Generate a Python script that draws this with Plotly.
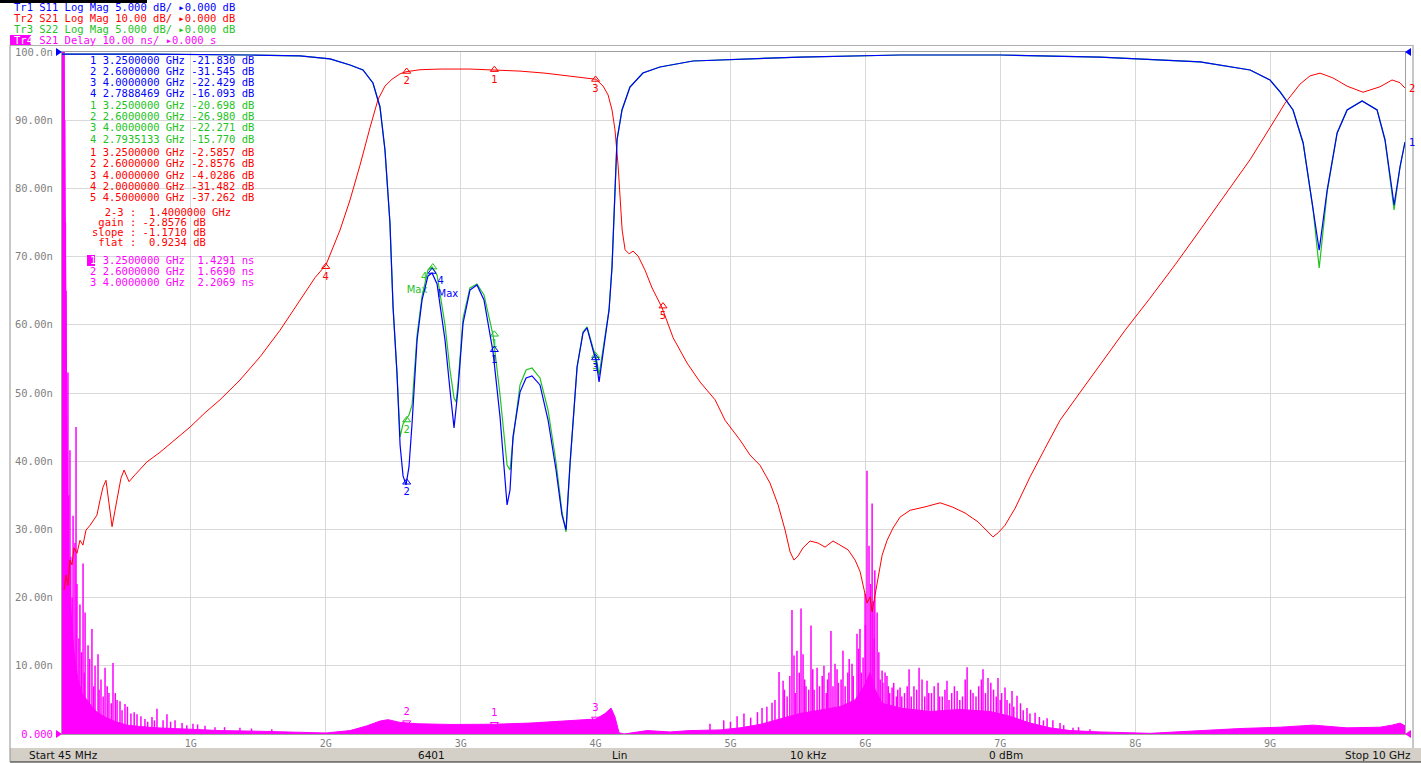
import plotly.graph_objects as go

# ---------------- data ----------------
# Tr1 S11 (Log Mag, 5 dB/div, ref 0 dB at top)
s11_f = [0.045, 0.697, 1.439, 1.809, 2.032, 2.180, 2.276, 2.350, 2.402, 2.439, 2.476, 2.499, 2.528, 2.551, 2.573,
         2.595, 2.617, 2.640, 2.677, 2.714, 2.758, 2.788, 2.825, 2.884, 2.921, 2.951, 2.980, 3.018, 3.069, 3.121,
         3.173, 3.240, 3.292, 3.344, 3.366, 3.388, 3.440, 3.485, 3.529, 3.588, 3.648, 3.707, 3.751, 3.781, 3.811,
         3.863, 3.907, 3.937, 3.981, 4.003, 4.026, 4.070, 4.100, 4.122, 4.144, 4.159, 4.196, 4.255, 4.351, 4.477,
         4.722, 5.515, 6.257, 6.998, 7.740, 8.481, 8.852, 8.999, 9.074, 9.170, 9.245, 9.319, 9.364, 9.423, 9.497,
         9.571, 9.682, 9.793, 9.852, 9.904, 9.919, 9.963, 10.0]
s11_db = [-0.15, -0.15, -0.22, -0.29, -0.51, -0.95, -1.32, -2.27, -4.03, -7.18, -12.54, -18.70, -23.53, -28.81, -31.08,
          -31.74, -30.42, -27.20, -21.11, -18.18, -16.42, -16.20, -17.01, -21.11, -24.78, -27.56, -24.78, -19.87, -17.45, -17.08,
          -18.18, -21.99, -26.76, -33.21, -32.11, -28.22, -24.93, -23.90, -23.75, -24.41, -26.98, -30.64, -33.94, -35.04, -30.13,
          -23.09, -20.60, -20.23, -21.85, -22.58, -24.19, -21.11, -18.91, -15.76, -10.12, -6.45, -4.25, -2.57, -1.54, -1.10,
          -0.66, -0.37, -0.22, -0.22, -0.37, -0.73, -1.32, -2.05, -2.93, -4.25, -6.67, -11.36, -14.52, -10.12, -5.94,
          -4.25, -3.59, -4.25, -6.45, -10.12, -11.22, -8.43, -6.60]

# Tr3 S22 (Log Mag, 5 dB/div)
s22_f = [0.045, 0.697, 1.439, 1.809, 2.032, 2.180, 2.276, 2.350, 2.402, 2.439, 2.476, 2.499, 2.528, 2.551, 2.573,
         2.595, 2.617, 2.640, 2.677, 2.714, 2.758, 2.788, 2.825, 2.884, 2.921, 2.951, 2.966, 2.980, 3.018, 3.069, 3.121,
         3.173, 3.240, 3.292, 3.344, 3.366, 3.388, 3.440, 3.485, 3.529, 3.588, 3.648, 3.707, 3.751, 3.781, 3.811,
         3.863, 3.907, 3.937, 3.981, 4.003, 4.026, 4.070, 4.100, 4.122, 4.144, 4.159, 4.196, 4.255, 4.351, 4.477,
         4.722, 5.515, 6.257, 6.998, 7.740, 8.481, 8.852, 8.999, 9.074, 9.170, 9.245, 9.319, 9.364, 9.423, 9.497,
         9.571, 9.682, 9.793, 9.852, 9.904, 9.919, 9.963, 10.0]
s22_db = [-0.15, -0.15, -0.22, -0.29, -0.51, -0.95, -1.32, -2.27, -4.03, -7.18, -12.54, -18.70, -23.53, -28.22, -27.27,
          -26.98, -26.61, -25.88, -20.75, -17.89, -15.98, -15.76, -16.35, -20.01, -23.31, -25.37, -25.66, -24.41, -19.50, -17.30, -17.01,
          -17.81, -20.75, -25.15, -30.28, -30.64, -28.44, -24.41, -23.31, -23.17, -23.90, -26.25, -30.06, -33.72, -35.19, -30.28,
          -23.09, -20.53, -20.16, -21.70, -22.29, -23.68, -20.75, -18.91, -15.76, -10.12, -6.45, -4.25, -2.57, -1.54, -1.10,
          -0.66, -0.37, -0.22, -0.22, -0.37, -0.73, -1.32, -2.05, -2.93, -4.25, -6.67, -11.58, -15.84, -10.26, -5.94,
          -4.25, -3.59, -4.25, -6.45, -10.30, -11.58, -8.43, -6.60]

# Tr2 S21 (Log Mag, 10 dB/div)
s21_f = [0.060, 0.075, 0.089, 0.104, 0.119, 0.134, 0.156, 0.178, 0.200, 0.223, 0.253, 0.282, 0.304, 0.327, 0.349,
         0.371, 0.393, 0.416, 0.438, 0.460, 0.482, 0.505, 0.527, 0.542, 0.586, 0.675, 0.771, 0.883, 0.994, 1.105,
         1.216, 1.364, 1.513, 1.661, 1.809, 1.920, 2.002, 2.106, 2.180, 2.254, 2.328, 2.387, 2.439, 2.491, 2.551,
         2.595, 2.699, 2.847, 3.070, 3.240, 3.440, 3.625, 3.811, 3.959, 4.003, 4.056, 4.093, 4.122, 4.144, 4.167,
         4.182, 4.197, 4.219, 4.249, 4.278, 4.315, 4.367, 4.419, 4.493, 4.575, 4.678, 4.775, 4.886, 4.960, 5.071,
         5.145, 5.219, 5.293, 5.353, 5.405, 5.442, 5.471, 5.501, 5.538, 5.590, 5.649, 5.701, 5.760, 5.812, 5.872,
         5.924, 5.961, 5.991, 6.013, 6.035, 6.050, 6.072, 6.094, 6.124, 6.161, 6.205, 6.257, 6.331, 6.442, 6.554,
         6.643, 6.739, 6.835, 6.909, 6.946, 6.984, 7.035, 7.110, 7.221, 7.332, 7.443, 7.592, 7.740, 7.925, 8.110,
         8.296, 8.481, 8.666, 8.851, 8.999, 9.111, 9.222, 9.296, 9.370, 9.466, 9.570, 9.689, 9.815, 9.904, 9.963, 10.0]
s21_db = [-78.9, -76.7, -78.2, -74.5, -75.2, -72.7, -73.5, -71.6, -72.3, -70.1, -69.4, -68.6, -67.9, -65.7, -63.8,
          -62.8, -66.1, -69.6, -67.2, -65.0, -62.5, -61.3, -62.5, -63.0, -62.0, -60.1, -58.7, -56.9, -55.0, -52.9,
          -51.0, -48.1, -44.7, -40.8, -36.4, -33.1, -31.2, -26.1, -21.7, -16.6, -11.1, -7.0, -5.0, -4.0, -3.2,
          -2.9, -2.6, -2.5, -2.5, -2.6, -2.8, -3.1, -3.5, -3.9, -4.0, -5.0, -6.3, -8.5, -11.4, -16.6,
          -21.7, -26.1, -29.0, -29.6, -29.2, -29.9, -32.0, -34.6, -37.5, -41.9, -45.6, -48.4, -51.0, -54.0, -56.9,
          -59.1, -60.6, -63.2, -66.4, -70.1, -73.3, -74.5, -73.9, -72.7, -71.7, -72.0, -72.6, -71.7, -72.3, -73.0,
          -74.5, -76.2, -78.9, -80.8, -79.9, -82.1, -79.6, -77.1, -73.8, -71.6, -69.8, -68.2, -67.2, -66.7, -66.1,
          -66.7, -67.6, -68.9, -70.4, -71.1, -70.5, -69.4, -66.9, -62.3, -58.1, -54.0, -49.9, -45.9, -40.8, -36.1,
          -31.2, -26.1, -21.0, -15.8, -11.1, -7.5, -4.7, -3.5, -3.1, -3.8, -5.0, -5.9, -5.1, -4.1, -4.5, -5.3]

# Tr4 S21 Delay (10 ns/div, ref 0 at bottom): dense body of the trace
dly_f = [0.045, 0.060, 0.075, 0.089, 0.104, 0.134, 0.163, 0.193, 0.230, 0.267, 0.304, 0.371, 0.445, 0.527, 0.623,
         0.749, 0.994, 1.216, 1.513, 1.809, 2.002, 2.180, 2.306, 2.402, 2.462, 2.551, 2.684, 2.921, 3.240, 3.514,
         3.811, 4.003, 4.070, 4.115, 4.144, 4.174, 4.211, 4.278, 4.382, 4.553, 4.700, 4.923, 5.071, 5.219, 5.367,
         5.515, 5.663, 5.812, 5.924, 5.991, 6.035, 6.072, 6.124, 6.257, 6.479, 6.702, 6.924, 7.073, 7.221, 7.369,
         7.518, 7.740, 8.110, 8.481, 8.777, 9.074, 9.319, 9.571, 9.815, 9.904, 9.963, 10.0]
dly_ns = [100, 100, 60, 30, 20, 12, 8, 6, 5, 4, 3.2, 2.4, 1.8, 1.3, 1.1,
          0.9, 0.7, 0.5, 0.4, 0.3, 0.15, 0.5, 1.2, 1.9, 2.1, 1.7, 1.5, 1.4, 1.43, 1.6,
          1.9, 2.2, 3.0, 3.8, 2.5, 0.2, 0.0, 0.2, 0.5, 0.3, 0.5, 0.6, 0.9, 1.4, 2.2,
          3.0, 3.5, 4.0, 5.0, 7.0, 9.0, 6.5, 4.5, 3.8, 3.3, 3.6, 3.3, 2.6, 1.6, 0.9,
          0.5, 0.3, 0.1, 0.5, 0.8, 1.0, 1.3, 0.9, 1.0, 1.3, 1.6, 1.2]
# Tr4 delay noise spikes
spk_f = [0.050, 0.060, 0.065, 0.070, 0.075, 0.080, 0.089, 0.095, 0.104, 0.110, 0.120, 0.127, 0.141, 0.149, 0.156,
         0.170, 0.178, 0.190, 0.201, 0.210, 0.216, 0.238, 0.250, 0.267, 0.280, 0.290, 0.312, 0.320, 0.334, 0.350,
         0.364, 0.380, 0.393, 0.410, 0.423, 0.440, 0.453, 0.475, 0.490, 0.512, 0.530, 0.556, 0.580, 0.601, 0.630,
         0.660, 0.680, 0.712, 0.730, 0.749, 0.794, 0.823, 0.850, 0.883, 0.935, 0.970, 1.016, 1.050, 1.105, 1.179,
         1.250, 1.364, 1.450, 1.600,
         4.848, 4.950, 5.000, 5.049, 5.100, 5.150, 5.200, 5.234, 5.270, 5.308, 5.330, 5.360, 5.390, 5.400, 5.420,
         5.440, 5.456, 5.471, 5.480, 5.493, 5.510, 5.523, 5.538, 5.550, 5.560, 5.580, 5.597, 5.610, 5.620, 5.642,
         5.660, 5.680, 5.693, 5.710, 5.720, 5.730, 5.745, 5.760, 5.775, 5.790, 5.800, 5.820, 5.834, 5.850, 5.870,
         5.880, 5.901, 5.910, 5.938, 5.950, 5.960, 5.970, 5.983, 5.998, 6.000, 6.012, 6.027, 6.040, 6.050, 6.057,
         6.065, 6.070, 6.087, 6.100, 6.110, 6.124, 6.130, 6.146, 6.160, 6.170, 6.180, 6.198, 6.210, 6.230, 6.240,
         6.257, 6.270, 6.290, 6.310, 6.324, 6.340, 6.360, 6.380, 6.398, 6.420, 6.440, 6.457, 6.470, 6.490, 6.510,
         6.539, 6.550, 6.570, 6.590, 6.605, 6.620, 6.640, 6.660, 6.680, 6.700, 6.720, 6.740, 6.754, 6.780, 6.798,
         6.820, 6.840, 6.860, 6.872, 6.890, 6.909, 6.930, 6.950, 6.970, 6.983, 7.000, 7.010, 7.035, 7.050, 7.070,
         7.087, 7.100, 7.124, 7.150, 7.170, 7.198, 7.220, 7.258, 7.290, 7.320, 7.347, 7.390, 7.443, 7.470, 7.539,
         7.580, 7.665]
spk_ns = [100, 100, 90, 75, 65, 38, 53, 35, 41.6, 26, 20, 32, 28, 45, 22,
          14, 19, 12, 25, 9, 17.8, 13, 11, 15.4, 7, 10, 11.7, 6.5, 8, 5.5,
          9.7, 7, 6, 4.5, 10.4, 6, 5, 4.8, 3.5, 4.4, 4, 3, 3.2, 2.9, 2.6,
          2.2, 1.8, 2.5, 2.0, 3.7, 2.0, 2.9, 1.8, 2.0, 1.6, 1.3, 1.5, 1.4, 1.2, 1.0,
          1.0, 0.9, 0.8, 0.7,
          1.5, 2.0, 1.8, 2.6, 3.0, 2.4, 3.2, 3.8, 4.0, 4.6, 5.0, 9.1, 7.8, 6.5, 5.5,
          8.5, 18.2, 11.5, 6.0, 12.2, 9.0, 18.4, 11.7, 8.0, 7.0, 6.5, 15.9, 9.5, 6.5, 9.7,
          7.0, 8.5, 10.0, 6.0, 8.0, 9.0, 15.1, 7.0, 10.3, 9.5, 7.5, 8.0, 12.2, 7.0, 9.0,
          11.0, 10.3, 8.5, 14.7, 12.5, 15.4, 9.0, 11.2, 20.6, 16.0, 38.6, 27.6, 22.0, 33.8, 19.5,
          14.0, 24.0, 17.8, 12.0, 8.0, 9.3, 7.5, 9.0, 8.5, 7.0, 6.0, 6.8, 7.5, 5.5, 6.5,
          6.8, 5.5, 6.0, 7.0, 9.5, 5.5, 7.0, 6.5, 9.7, 8.0, 5.5, 7.8, 6.0, 6.0, 7.0,
          7.5, 5.5, 5.5, 6.5, 7.8, 5.0, 6.0, 7.0, 6.3, 5.0, 5.5, 8.0, 9.8, 6.5, 6.0,
          5.5, 7.0, 8.0, 9.5, 6.0, 8.2, 7.5, 6.5, 5.5, 8.2, 5.0, 6.0, 6.8, 5.0, 4.5,
          6.3, 4.0, 5.6, 4.5, 3.5, 3.8, 3.0, 3.1, 2.5, 2.0, 2.3, 2.0, 1.6, 1.3, 0.9,
          1.0, 0.7]

# marker readouts
s11_mk_f = [3.2500000, 2.6000000, 4.0000000, 2.7888469]
s11_mk_db = [-21.830, -31.545, -22.429, -16.093]
s22_mk_f = [3.2500000, 2.6000000, 4.0000000, 2.7935133]
s22_mk_db = [-20.698, -26.980, -22.271, -15.770]
s21_mk_f = [3.2500000, 2.6000000, 4.0000000, 2.0000000, 4.5000000]
s21_mk_db = [-2.5857, -2.8576, -4.0286, -31.482, -37.262]
dly_mk_f = [3.2500000, 2.6000000, 4.0000000]
dly_mk_ns = [1.4291, 1.6690, 2.2069]
stats_lines = ["  2-3 :  1.4000000 GHz", " gain : -2.8576 dB", "slope : -1.1710 dB", " flat :  0.9234 dB"]

# axes text
x_tick_vals = [1, 2, 3, 4, 5, 6, 7, 8, 9]
x_tick_text = ["1G", "2G", "3G", "4G", "5G", "6G", "7G", "8G", "9G"]
y_tick_vals = [0, 10, 20, 30, 40, 50, 60, 70, 80, 90, 100]
y_tick_text = ["0.000", "10.00n", "20.00n", "30.00n", "40.00n", "50.00n", "60.00n", "70.00n", "80.00n", "90.00n", "100.0n"]
header_lines = ["Tr1 S11 Log Mag 5.000 dB/ \u25b80.000 dB", "Tr2 S21 Log Mag 10.00 dB/ \u25b80.000 dB",
                "Tr3 S22 Log Mag 5.000 dB/ \u25b80.000 dB", "Tr4 S21 Delay 10.00 ns/ \u25b80.000 s"]
status_items = ["Start 45 MHz", "6401", "Lin", "10 kHz", "0 dBm", "Stop 10 GHz"]

# ---------------- styling / layout helpers ----------------
W, H = 1421, 763
L, R, T, B = 62, 1405, 52, 734


def px(x):
    return (x - L) / (R - L)


def py(y):
    return (B - y) / (B - T)


BLUE = '#0000ff'
RED = '#ff0000'
GREEN = '#22c322'
MAG = '#ff00ff'
GRID = '#d9d9d9'
GRAY = '#7f7f7f'
MONO = 'DejaVu Sans Mono'
NB = '\u00a0'

fig = go.Figure()

# delay trace body
fig.add_trace(go.Scatter(x=dly_f, y=dly_ns, mode='lines', line=dict(color=MAG, width=1),
                         fill='tozeroy', fillcolor=MAG, yaxis='y', hoverinfo='skip'))
seg_x, seg_y = [], []
for f, v in zip(spk_f, spk_ns):
    seg_x += [f, f, None]
    seg_y += [0, v, None]
fig.add_trace(go.Scatter(x=seg_x, y=seg_y, mode='lines', line=dict(color=MAG, width=1.5), yaxis='y',
                         hoverinfo='skip'))
fig.add_trace(go.Scatter(x=dly_mk_f, y=dly_mk_ns, mode='markers+text', yaxis='y',
                         marker=dict(symbol='triangle-down-open', size=7, color=MAG, line=dict(width=1)),
                         text=[str(i + 1) for i in range(len(dly_mk_f))], textposition='top center',
                         textfont=dict(color=MAG, size=10, family='DejaVu Sans'), cliponaxis=False))

# S22 (green) – bottom-most of the S-parameter layers
fig.add_trace(go.Scatter(x=s22_f, y=s22_db, mode='lines', line=dict(color=GREEN, width=1.2), yaxis='y2',
                         hoverinfo='skip'))
fig.add_trace(go.Scatter(x=s22_mk_f, y=s22_mk_db, mode='markers+text', yaxis='y2',
                         marker=dict(symbol='triangle-up-open', size=7, color=GREEN, line=dict(width=1)),
                         text=['1', '2', '3', '4<br>Max'],
                         textposition=['bottom center', 'bottom center', 'bottom center', 'bottom left'],
                         textfont=dict(color=GREEN, size=10, family='DejaVu Sans')))
# S21 (red)
fig.add_trace(go.Scatter(x=s21_f, y=s21_db, mode='lines', line=dict(color=RED, width=1), yaxis='y3',
                         hoverinfo='skip'))
fig.add_trace(go.Scatter(x=s21_mk_f, y=s21_mk_db, mode='markers+text', yaxis='y3',
                         marker=dict(symbol='triangle-up-open', size=7, color=RED, line=dict(width=1)),
                         text=[str(i + 1) for i in range(len(s21_mk_f))], textposition='bottom center',
                         textfont=dict(color=RED, size=10, family='DejaVu Sans')))
# S11 (blue) on top
fig.add_trace(go.Scatter(x=s11_f, y=s11_db, mode='lines', line=dict(color=BLUE, width=1.2), yaxis='y4',
                         hoverinfo='skip'))
fig.add_trace(go.Scatter(x=s11_mk_f, y=s11_mk_db, mode='markers+text', yaxis='y4',
                         marker=dict(symbol='triangle-up-open', size=7, color=BLUE, line=dict(width=1)),
                         text=['1', '2', '3', '4<br>Max'],
                         textposition=['bottom center', 'bottom center', 'bottom center', 'bottom right'],
                         textfont=dict(color=BLUE, size=10, family='DejaVu Sans')))

# stimulus markers under the x axis
stim_f = [s21_mk_f[3], dly_mk_f[1], s22_mk_f[3], dly_mk_f[0], dly_mk_f[2], s21_mk_f[4]]
stim_c = [RED, MAG, GREEN, MAG, MAG, RED]
stim_s = ['triangle-up-open', 'triangle-up-open', 'triangle-up-open', 'triangle-up', 'triangle-up-open',
          'triangle-up-open']
fig.add_trace(go.Scatter(x=stim_f, y=[-0.8] * len(stim_f), mode='markers', yaxis='y', cliponaxis=False,
                         marker=dict(symbol=stim_s, size=8, color=stim_c, line=dict(color=stim_c, width=1)),
                         hoverinfo='skip'))

ann = []
# header lines (Tr4 label sits on a magenta box drawn as a shape)
hy = [7, 18, 29, 40]
hc = [BLUE, RED, GREEN, MAG]
for i, (txt, c) in enumerate(zip(header_lines, hc)):
    t = txt.replace(' ', NB)
    if i == 3:
        t = "<span style='color:white'>" + t[:3] + "</span>" + t[3:]
    ann.append(dict(x=px(12), y=py(hy[i]), xref='paper', yref='paper', xanchor='left', yanchor='middle',
                    text=t, showarrow=False, font=dict(family=MONO, size=10.5, color=c)))


def readout(lines, ys, x0, color):
    for t, y in zip(lines, ys):
        ann.append(dict(x=px(x0), y=py(y), xref='paper', yref='paper', xanchor='left', yanchor='middle',
                        text=t, showarrow=False, font=dict(family=MONO, size=10.5, color=color)))


def nb(s):
    return s.replace(' ', NB)


readout([nb(f"{i + 1} {f:.7f} GHz {v:.3f} dB") for i, (f, v) in enumerate(zip(s11_mk_f, s11_mk_db))],
        [60, 71, 82, 93], 88, BLUE)
readout([nb(f"{i + 1} {f:.7f} GHz {v:.3f} dB") for i, (f, v) in enumerate(zip(s22_mk_f, s22_mk_db))],
        [105, 116, 127, 139], 88, GREEN)
readout([nb(f"{i + 1} {f:.7f} GHz {v:.3f} dB" if abs(v) >= 10 else f"{i + 1} {f:.7f} GHz {v:.4f} dB")
         for i, (f, v) in enumerate(zip(s21_mk_f, s21_mk_db))],
        [152, 163, 175, 186, 197], 88, RED)
readout([nb(s) for s in stats_lines], [212, 222, 232, 242], 90, RED)
dl = [nb(f"{i + 1} {f:.7f} GHz {v:7.4f} ns") for i, (f, v) in enumerate(zip(dly_mk_f, dly_mk_ns))]
dl[0] = "<span style='color:white'>" + dl[0][0] + "</span>" + dl[0][1:]
readout(dl, [260, 271, 282], 88, MAG)

# trace-end labels at the right edge
ann.append(dict(x=10.0, y=s21_db[-1], xref='x', yref='y3', xanchor='left', yanchor='middle', xshift=2,
                text='2', showarrow=False, font=dict(family='DejaVu Sans', size=10, color=RED)))
ann.append(dict(x=10.0, y=s11_db[-1], xref='x', yref='y4', xanchor='left', yanchor='middle', xshift=2,
                text='1', showarrow=False, font=dict(family='DejaVu Sans', size=10, color=BLUE)))

# status bar texts
sx = [27, 432, 619, 809, 1006, 1413]
sa = ['left', 'center', 'center', 'center', 'center', 'right']
for t, x, a in zip(status_items, sx, sa):
    ann.append(dict(x=px(x), y=py(755), xref='paper', yref='paper', xanchor=a, yanchor='middle', text=t,
                    showarrow=False, font=dict(family='DejaVu Sans', size=10.5, color='#111111')))

shapes = [
    dict(type='rect', xref='paper', yref='paper', x0=px(10), x1=px(1421), y0=py(762), y1=py(748),
         fillcolor='#d4d0c8', line=dict(width=0), layer='below'),
    dict(type='line', xref='paper', yref='paper', x0=px(10), x1=px(1421), y0=py(762), y1=py(762),
         line=dict(color='#202020', width=1)),
    dict(type='line', xref='paper', yref='paper', x0=px(10), x1=px(10), y0=py(45), y1=py(762),
         line=dict(color='#909090', width=1)),
    dict(type='line', xref='paper', yref='paper', x0=px(1413), x1=px(1413), y0=py(45), y1=py(748),
         line=dict(color='#909090', width=1)),
    dict(type='line', xref='paper', yref='paper', x0=px(10), x1=px(1413), y0=py(45.5), y1=py(45.5),
         line=dict(color='#b0b0b0', width=1)),
    dict(type='rect', xref='paper', yref='paper', x0=px(0), x1=px(147), y0=py(3), y1=py(0),
         fillcolor='black', line=dict(width=0)),
    # magenta highlight boxes (Tr4 label, active marker 1)
    dict(type='rect', xref='paper', yref='paper', x0=px(10), x1=px(31), y0=py(46), y1=py(35),
         fillcolor=MAG, line=dict(width=0), layer='below'),
    dict(type='rect', xref='paper', yref='paper', x0=px(87), x1=px(95), y0=py(266), y1=py(255),
         fillcolor=MAG, line=dict(width=0), layer='above'),
]


def tri(xa, y, d, color):
    # small reference-level triangle: apex at (xa, y), pointing toward the plot (d = +1 right, -1 left)
    xb = xa - d * 6
    return dict(type='path', xref='paper', yref='paper', fillcolor=color, line=dict(width=0),
                path=f"M {px(xa)} {py(y)} L {px(xb)} {py(y - 4)} L {px(xb)} {py(y + 4)} Z")


shapes += [tri(62, 52, 1, BLUE), tri(1405, 52, -1, BLUE), tri(62, 734, 1, MAG), tri(1405, 734, -1, MAG)]

y_tick_text_styled = list(y_tick_text)
y_tick_text_styled[0] = f"<span style='color:{MAG}'>{y_tick_text[0]}</span>"

fig.update_layout(
    width=W, height=H, margin=dict(l=L, r=W - R, t=T, b=H - B),
    paper_bgcolor='white', plot_bgcolor='white', showlegend=False,
    xaxis=dict(range=[0.045, 10.0], tickvals=x_tick_vals, ticktext=x_tick_text, showgrid=True, gridcolor=GRID,
               gridwidth=1, zeroline=False, showline=True, mirror=True, linecolor='#a0a0a0', ticks='',
               tickfont=dict(family=MONO, size=10, color=GRAY), ticklabelstandoff=0, fixedrange=True),
    yaxis=dict(range=[0, 100], tickvals=y_tick_vals, ticktext=y_tick_text_styled, showgrid=True, gridcolor=GRID,
               gridwidth=1, zeroline=False, showline=True, mirror=True, linecolor='#a0a0a0', ticks='',
               tickfont=dict(family=MONO, size=10.5, color=GRAY), ticklabelstandoff=6, fixedrange=True),
    yaxis2=dict(range=[-50, 0], overlaying='y', visible=False, fixedrange=True),
    yaxis3=dict(range=[-100, 0], overlaying='y', visible=False, fixedrange=True),
    yaxis4=dict(range=[-50, 0], overlaying='y', visible=False, fixedrange=True),
    annotations=ann, shapes=shapes,
)

fig.write_html("out.html", config={'displayModeBar': False},
               post_script="document.body.style.margin='0';document.body.style.overflow='hidden';")
